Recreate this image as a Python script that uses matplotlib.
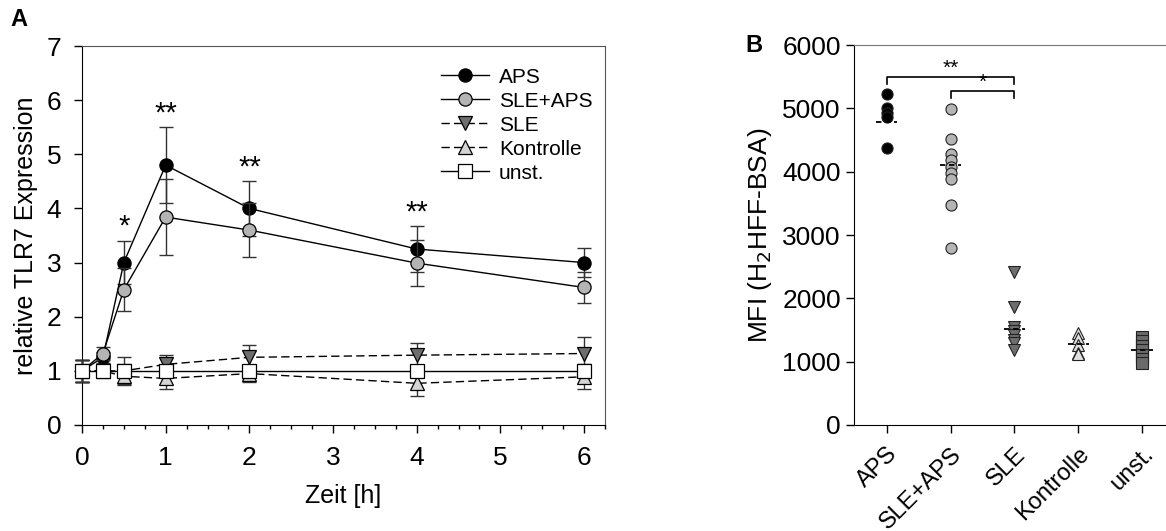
import matplotlib
matplotlib.use("Agg")
import matplotlib.pyplot as plt
import numpy as np

plt.rcParams['font.family'] = ['Liberation Sans', 'DejaVu Sans']

# ---- Panel A data ----
times = [0, 0.25, 0.5, 1, 2, 4, 6]
aps = [1.0, 1.25, 3.0, 4.8, 4.0, 3.25, 3.0]
aps_err = [0.2, 0.1, 0.4, 0.7, 0.5, 0.42, 0.27]
sle_aps = [1.0, 1.32, 2.5, 3.84, 3.6, 2.99, 2.54]
sle_aps_err = [0.2, 0.12, 0.4, 0.7, 0.5, 0.43, 0.28]
sle = [1.0, 1.0, 1.0, 1.12, 1.25, 1.29, 1.32]
sle_err = [0.2, 0.1, 0.25, 0.17, 0.22, 0.22, 0.3]
kontrolle = [1.0, 1.0, 0.9, 0.86, 0.95, 0.77, 0.89]
kontrolle_err = [0.2, 0.1, 0.17, 0.2, 0.16, 0.23, 0.23]
unst = [1.0, 1.0, 1.0, 1.0, 1.0, 1.0, 1.0]
unst_err = [0.2, 0.12, 0.1, 0.1, 0.1, 0.1, 0.1]
sig_times = [0.5, 1, 2, 4]
sig_labels = ['*', '**', '**', '**']
sig_heights = [3.4, 5.5, 4.5, 3.67]

# ---- Panel B data ----
groups = ['APS', 'SLE+APS', 'SLE', 'Kontrolle', 'unst.']
mfi_aps = [5220, 5000, 4930, 4870, 4370]
mfi_sle_aps = [4990, 4510, 4280, 4180, 4080, 3980, 3880, 3470, 2790]
mfi_sle = [2420, 1870, 1550, 1480, 1420, 1350, 1300, 1190]
mfi_kontrolle = [1460, 1370, 1260, 1140, 1120]
mfi_unst = [1390, 1320, 1250, 1180, 1110, 1040, 980]
mfi_means = [4790, 4100, 1510, 1280, 1180]

fig = plt.figure(figsize=(11.66, 5.31), dpi=100)

# ================= Panel A =================
axA = fig.add_axes([82/1166, 1-425/531, (605-82)/1166, (425-46)/531])
series = [
    ('APS', aps, aps_err, 'o', 'black', '-'),
    ('SLE+APS', sle_aps, sle_aps_err, 'o', '#b4b4b4', '-'),
    ('SLE', sle, sle_err, 'v', '#6e6e6e', (0, (6, 3))),
    ('Kontrolle', kontrolle, kontrolle_err, '^', '#d4d4d4', (0, (6, 3))),
    ('unst.', unst, unst_err, 's', 'white', '-'),
]
for i, (lab, vals, err, mk, fc, ls) in enumerate(series):
    eb = axA.errorbar(times, vals, yerr=err, fmt='none', ecolor='#333333',
                      elinewidth=1, capsize=5, capthick=1, zorder=2 + i)
    for art in eb.lines[1] + eb.lines[2]:
        art.set_clip_on(False)
    axA.plot(times, vals, linestyle=ls, color='black', lw=1,
             marker=mk, markersize=9.5, markerfacecolor=fc,
             markeredgecolor='black', markeredgewidth=0.9,
             label=lab, zorder=2.5 + i, clip_on=False)

for t, s, h in zip(sig_times, sig_labels, sig_heights):
    axA.text(t, h, s, ha='center', va='bottom', fontsize=21)

axA.set_xlim(0, 6.25)
axA.set_ylim(0, 7)
axA.set_xticks([0, 1, 2, 3, 4, 5, 6])
axA.set_xticks(np.arange(0, 6.26, 0.25), minor=True)
axA.set_yticks(range(0, 8))
axA.tick_params(axis='both', labelsize=19, direction='out', length=6, width=1)
axA.tick_params(axis='x', which='minor', length=3, width=1)
axA.tick_params(axis='y', pad=9)
axA.tick_params(axis='x', pad=9)
for sp in ['top', 'right']:
    axA.spines[sp].set_color('#555555')
axA.set_xlabel('Zeit [h]', fontsize=18, labelpad=10)
axA.set_ylabel('relative TLR7 Expression', fontsize=18, labelpad=6)
leg = axA.legend(loc='upper left', bbox_to_anchor=(0.67, 0.965), frameon=False,
                 fontsize=15, handlelength=2.3, handletextpad=0.5,
                 labelspacing=0.24, borderaxespad=0)
fig.text(10/1166, 1-20/531, 'A', fontsize=17, fontweight='bold', va='center')

# ================= Panel B =================
axB = fig.add_axes([854/1166, 1-425/531, 1-854/1166, (425-45)/531])
data_sets = [mfi_aps, mfi_sle_aps, mfi_sle, mfi_kontrolle, mfi_unst]
mk_styles = [('o', 'black', 8), ('o', '#b4b4b4', 8), ('v', '#6e6e6e', 9),
             ('^', '#e0e0e0', 9), ('s', '#6a6a6a', 8)]
for i, (vals, (mk, fc, ms)) in enumerate(zip(data_sets, mk_styles)):
    axB.plot([i] * len(vals), vals, linestyle='none', marker=mk, markersize=ms,
             markerfacecolor=fc, markeredgecolor='#222222', markeredgewidth=0.8,
             zorder=3)
    axB.plot([i - 0.17, i + 0.17], [mfi_means[i]] * 2, color='black', lw=1.3,
             linestyle=(0, (3, 2)), zorder=4)

# significance brackets
def bracket(x1, x2, y, drop, label):
    axB.plot([x1, x1, x2, x2], [y - drop, y, y, y - drop], color='black', lw=1.2,
             clip_on=False)
    axB.text((x1 + x2) / 2, y - 20, label, ha='center', va='bottom', fontsize=15)

bracket(0, 2, 5500, 110, '**')
bracket(1, 2, 5280, 110, '*')

axB.set_xlim(-0.51, 4.37)
axB.set_ylim(0, 6000)
axB.set_yticks(range(0, 6001, 1000))
axB.set_xticks(range(5))
axB.set_xticklabels(groups, rotation=45, ha='right', rotation_mode='anchor')
axB.tick_params(axis='both', labelsize=19, direction='out', length=6, width=1)
axB.tick_params(axis='x', labelsize=17, pad=7)
axB.spines['right'].set_visible(False)
axB.spines['top'].set_color('#777777')
axB.set_ylabel('MFI (H$_2$HFF-BSA)', fontsize=19, labelpad=6)
fig.text(745/1166, 1-45/531, 'B', fontsize=17, fontweight='bold', va='center')

fig.savefig('out.png', dpi=100)
